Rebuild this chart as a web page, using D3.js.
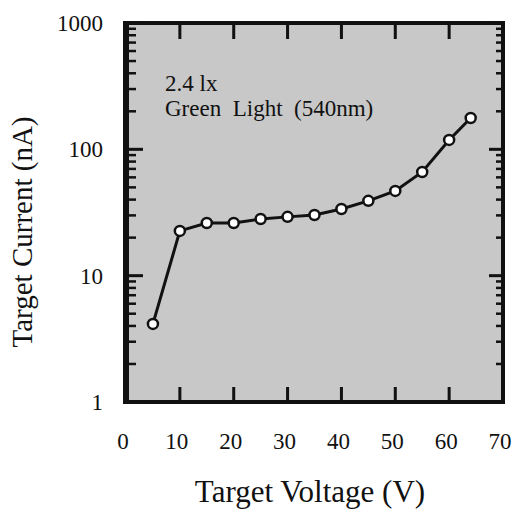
<!DOCTYPE html>
<html>
<head>
<meta charset="utf-8">
<script src="https://cdn.jsdelivr.net/npm/d3@7"></script>
<style>
    body { margin: 0; background: #fff; }
    .chart text { font-family: "Liberation Serif", "Times New Roman", serif; fill: #111; }
</style>
</head>
<body>
<svg class="chart" width="517" height="510"></svg>
<script>
// data
const voltage = [5, 10, 15, 20, 25, 30, 35, 40, 45, 50, 55, 60, 64];
const current = [4.15, 22.6, 26.1, 26.1, 28.1, 29.2, 30.2, 33.7, 39.1, 46.9, 66.2, 118.7, 177];
const xTickLabels = [0, 10, 20, 30, 40, 50, 60, 70];
const xInnerTicks = [10, 20, 30, 40, 50, 60];
const yTickLabels = [1, 10, 100, 1000];
const notes = ["2.4 lx", "Green  Light  (540nm)"];

let svg = d3.select("svg.chart");

let xScale = d3.scaleLinear()
    .domain([0, 70])
    .range([126, 503]);
let yScale = d3.scaleLog()
    .domain([1, 1000])
    .range([402, 23]);

let x0 = xScale(0), x1 = xScale(70), y0 = yScale(1), y1 = yScale(1000);

// plot background
svg.append("rect")
    .attr("x", x0)
    .attr("y", y1)
    .attr("width", x1 - x0)
    .attr("height", y0 - y1)
    .attr("fill", "#c8c8c8");

// frame
svg.append("rect")
    .attr("x", x0 - 3)
    .attr("y", y1 - 2)
    .attr("width", 6)
    .attr("height", y0 - y1 + 4)
    .attr("fill", "#111");
svg.append("rect")
    .attr("x", x0)
    .attr("y", y1)
    .attr("width", x1 - x0)
    .attr("height", y0 - y1)
    .attr("fill", "none")
    .attr("stroke", "#111")
    .attr("stroke-width", 4);

// inner ticks, drawn as thin filled bars
let minor = yScale.ticks().filter(d => !yTickLabels.includes(d));

let tickG = svg.append("g").attr("fill", "#111");

tickG.selectAll("rect.tb")
    .data(xInnerTicks)
    .join("rect")
    .attr("class", "tb")
    .attr("x", d => xScale(d) - 1.5)
    .attr("y", y0 - 15)
    .attr("width", 3)
    .attr("height", 15);
tickG.selectAll("rect.tt")
    .data(xInnerTicks)
    .join("rect")
    .attr("class", "tt")
    .attr("x", d => xScale(d) - 1.5)
    .attr("y", y1)
    .attr("width", 3)
    .attr("height", 16);
tickG.selectAll("rect.tl")
    .data(yTickLabels)
    .join("rect")
    .attr("class", "tl")
    .attr("x", x0)
    .attr("y", d => yScale(d) - 1.5)
    .attr("width", 17)
    .attr("height", 3);
tickG.selectAll("rect.tlm")
    .data(minor)
    .join("rect")
    .attr("class", "tlm")
    .attr("x", x0)
    .attr("y", d => yScale(d) - 1.25)
    .attr("width", 10)
    .attr("height", 2.5);
tickG.selectAll("rect.tr")
    .data(yTickLabels)
    .join("rect")
    .attr("class", "tr")
    .attr("x", x1 - 14)
    .attr("y", d => yScale(d) - 1.5)
    .attr("width", 14)
    .attr("height", 3);
tickG.selectAll("rect.trm")
    .data(minor)
    .join("rect")
    .attr("class", "trm")
    .attr("x", x1 - 7)
    .attr("y", d => yScale(d) - 1.25)
    .attr("width", 7)
    .attr("height", 2.5);

// tick labels
svg.selectAll(".xlab")
    .data(xTickLabels)
    .join("text")
    .attr("class", "xlab")
    .attr("x", d => xScale(d) - 3)
    .attr("y", 449)
    .attr("text-anchor", "middle")
    .attr("font-size", "23px")
    .text(d => d);

svg.selectAll(".ylab")
    .data(yTickLabels)
    .join("text")
    .attr("class", "ylab")
    .attr("x", 103)
    .attr("y", d => yScale(d) + 8)
    .attr("text-anchor", "end")
    .attr("font-size", "23px")
    .text(d => d);

// axis titles
svg.append("text")
    .attr("x", 310)
    .attr("y", 502)
    .attr("text-anchor", "middle")
    .attr("font-size", "31px")
    .text("Target Voltage (V)");
svg.append("text")
    .attr("transform", "translate(32,232) rotate(-90)")
    .attr("text-anchor", "middle")
    .attr("font-size", "29px")
    .text("Target Current (nA)");

// annotation
svg.selectAll(".note")
    .data(notes)
    .join("text")
    .attr("class", "note")
    .attr("x", 165)
    .attr("y", (d, i) => 91 + i * 25)
    .attr("font-size", "23px")
    .style("white-space", "pre")
    .text(d => d);

// curve
let pts = voltage.map((v, i) => [v, current[i]]);
svg.append("path")
    .datum(pts)
    .attr("fill", "none")
    .attr("stroke", "#111")
    .attr("stroke-width", 3)
    .attr("d", d3.line()
        .x(d => xScale(d[0]))
        .y(d => yScale(d[1])));

svg.selectAll(".pt")
    .data(pts)
    .join("circle")
    .attr("class", "pt")
    .attr("cx", d => xScale(d[0]))
    .attr("cy", d => yScale(d[1]))
    .attr("r", 5)
    .attr("fill", "#fff")
    .attr("stroke", "#111")
    .attr("stroke-width", 2.5);
</script>
</body>
</html>
